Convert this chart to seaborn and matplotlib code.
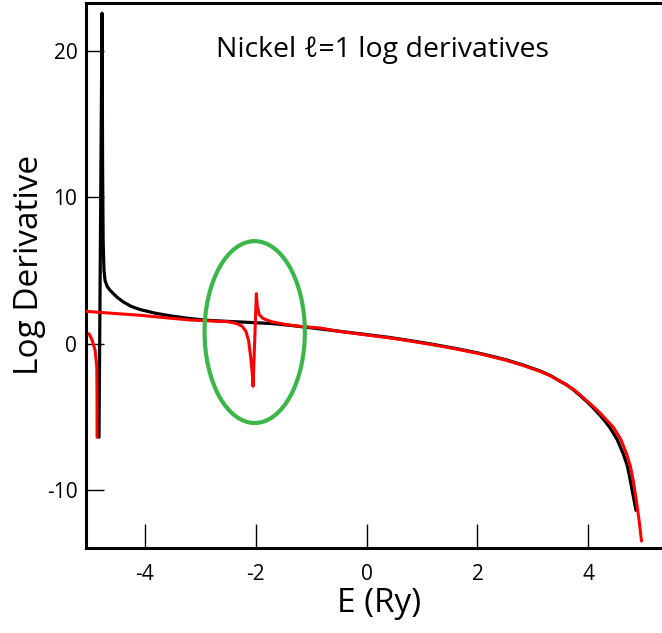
import numpy as np
import pandas as pd
import matplotlib
matplotlib.use("Agg")
import matplotlib.pyplot as plt
from matplotlib.patches import Ellipse
import seaborn as sns

# ---- data ----
black_E = [-4.83, -4.775, -4.765, -4.755, -4.74, -4.72, -4.68, -4.63, -4.51, -4.39, -4.25,
           -4.09, -3.8, -3.49, -3.2, -2.89, -2.5, -2.11, -1.7, -1.38, -1.0, -0.5, 0.0,
           0.42, 0.8, 1.2, 1.62, 2.0, 2.3, 2.53, 2.83, 3.13, 3.3, 3.46, 3.6, 3.73, 3.85,
           3.97, 4.09, 4.2, 4.3, 4.39, 4.52, 4.63, 4.70, 4.75, 4.80, 4.86]
black_V = [-6.4, 22.6, 12.0, 7.0, 5.0, 4.3, 3.9, 3.65, 3.19, 2.85, 2.55,
           2.33, 2.07, 1.87, 1.72, 1.60, 1.52, 1.45, 1.37, 1.25, 1.08, 0.85, 0.62,
           0.42, 0.2, -0.05, -0.34, -0.63, -0.9, -1.12, -1.47, -1.87, -2.15, -2.5, -2.8, -3.15, -3.55,
           -3.95, -4.4, -4.85, -5.3, -5.75, -6.55, -7.53, -8.3, -9.2, -10.2, -11.4]

red_left_E = [-5.01, -4.95, -4.90, -4.87, -4.866, -4.865]
red_left_V = [0.68, 0.2, -0.46, -1.6, -3.5, -6.4]

red_E = [-5.07, -4.5, -4.09, -3.6, -3.19, -2.8, -2.5, -2.35, -2.25, -2.18, -2.13, -2.09,
         -2.065, -2.05, -1.99, -1.975, -1.94, -1.88, -1.78, -1.69, -1.45, -1.20, -0.84,
         -0.5, 0.0, 0.42, 0.8, 1.2, 1.62, 2.0, 2.3, 2.53, 2.83, 3.13, 3.3, 3.46, 3.6, 3.73,
         3.85, 3.97, 4.09, 4.2, 4.3, 4.45, 4.58, 4.69, 4.76, 4.81, 4.87, 4.92, 4.96]
red_V = [2.21, 2.05, 1.94, 1.76, 1.62, 1.55, 1.50, 1.38, 1.2, 0.85, 0.2, -1.0,
         -2.0, -2.92, 3.42, 2.6, 2.0, 1.75, 1.58, 1.48, 1.30, 1.18, 1.07,
         0.84, 0.59, 0.39, 0.17, -0.08, -0.37, -0.66, -0.93, -1.15, -1.50, -1.90, -2.17, -2.5, -2.8, -3.12,
         -3.5, -3.9, -4.3, -4.7, -5.1, -5.71, -6.5, -7.53, -8.4, -9.36, -10.8, -12.2, -13.5]

# highlight ellipse: centre (E, V), width (E), height (V)
ell_center = (-2.02, 0.79)
ell_width = 1.81
ell_height = 12.44

x_ticks = [-4, -2, 0, 2, 4]
y_ticks = [-10, 0, 10, 20]
title_text = "Nickel \u2113=1 log derivatives"
xlabel_text = "E (Ry)"
ylabel_text = "Log Derivative"

# ---- plotting ----
sns.set_theme(style="white")
plt.rcParams['font.family'] = ['Open Sans', 'DejaVu Sans']

fig = plt.figure(figsize=(6.62, 6.33), dpi=100)
ax = fig.add_axes([85.7 / 662, 1 - 548.3 / 633, 1 - 85.7 / 662, (548.3 - 3) / 633])

df_black = pd.DataFrame({"E": black_E, "V": black_V})
df_red_left = pd.DataFrame({"E": red_left_E, "V": red_left_V})
df_red = pd.DataFrame({"E": red_E, "V": red_V})

sns.lineplot(data=df_black, x="E", y="V", sort=False, estimator=None, color="black",
             lw=2.3, ax=ax, zorder=3)
sns.lineplot(data=df_red_left, x="E", y="V", sort=False, estimator=None, color="#ff0000",
             lw=2.2, ax=ax, zorder=4)
sns.lineplot(data=df_red, x="E", y="V", sort=False, estimator=None, color="#ff0000",
             lw=2.2, ax=ax, zorder=4)

ax.add_patch(Ellipse(ell_center, ell_width, ell_height, fill=False,
                     edgecolor="#3cb54a", lw=3.0, zorder=5))

ax.set_xlim(-5.07, 5.33)
ax.set_ylim(-14.0, 23.3)
ax.set_xticks(x_ticks)
ax.set_yticks(y_ticks)
ax.set_xticklabels([str(t) for t in x_ticks])
ax.set_yticklabels([str(t) for t in y_ticks])

for side in ["left", "bottom", "top"]:
    ax.spines[side].set_visible(True)
    ax.spines[side].set_color("black")
    ax.spines[side].set_linewidth(2.2)
ax.spines["right"].set_visible(False)

ax.tick_params(axis="x", direction="in", length=17, width=1.0, color="black",
               labelsize=15, pad=11, bottom=True, top=False)
ax.tick_params(axis="y", direction="in", length=13, width=1.0, color="black",
               labelsize=15, pad=6, left=True, right=False)
for lab in ax.get_xticklabels() + ax.get_yticklabels():
    lab.set_color("black")

ax.set_xlabel(xlabel_text, fontsize=24, color="black")
ax.set_ylabel(ylabel_text, fontsize=24, color="black")
ax.xaxis.label.set_va("center")
ax.yaxis.label.set_va("center")
ax.xaxis.set_label_coords((379 - 85.7) / 576.3, (548.3 - 604) / 545.3)
ax.yaxis.set_label_coords((30 - 85.7) / 576.3, (548.3 - 265) / 545.3)

fig.text(382.5 / 662, 1 - 50 / 633, title_text, ha="center", va="center",
         fontsize=20.5, color="black")

fig.savefig("out.png", dpi=100)
